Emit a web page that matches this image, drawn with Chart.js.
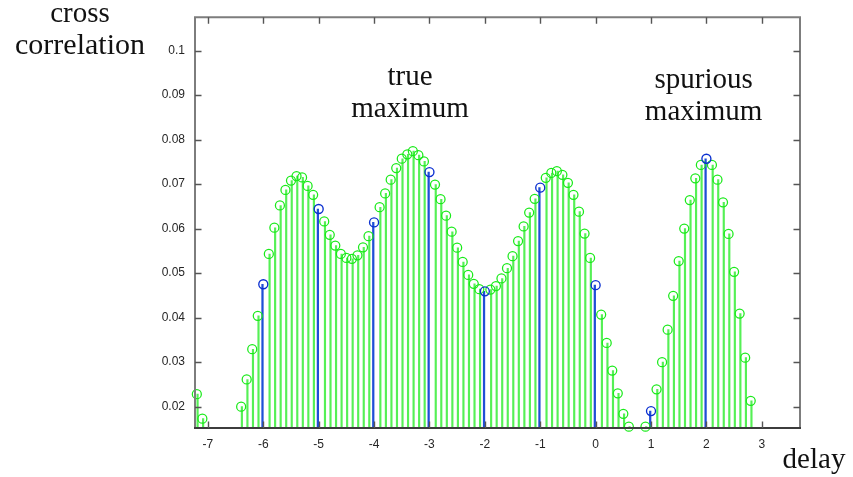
<!DOCTYPE html>
<html>
<head>
<meta charset="utf-8">
<script src="https://cdn.jsdelivr.net/npm/chart.js@4/dist/chart.umd.min.js"></script>
<style>
  html, body { margin: 0; padding: 0; background: #fff; }
  canvas { display: block; }
</style>
</head>
<body>
<canvas id="xc" width="853" height="477"></canvas>
<script>
// Sampled delays (step 0.1) and the cross-correlation value at each one.
const delays = [
  -7.2, -7.1,
  -6.4, -6.3, -6.2, -6.1, -6.0, -5.9, -5.8, -5.7, -5.6, -5.5, -5.4, -5.3, -5.2, -5.1,
  -5.0, -4.9, -4.8, -4.7, -4.6, -4.5, -4.4, -4.3, -4.2, -4.1,
  -4.0, -3.9, -3.8, -3.7, -3.6, -3.5, -3.4, -3.3, -3.2, -3.1,
  -3.0, -2.9, -2.8, -2.7, -2.6, -2.5, -2.4, -2.3, -2.2, -2.1,
  -2.0, -1.9, -1.8, -1.7, -1.6, -1.5, -1.4, -1.3, -1.2, -1.1,
  -1.0, -0.9, -0.8, -0.7, -0.6, -0.5, -0.4, -0.3, -0.2, -0.1,
  0.0, 0.1, 0.2, 0.3, 0.4, 0.5, 0.6,
  0.9, 1.0, 1.1, 1.2, 1.3, 1.4, 1.5, 1.6, 1.7, 1.8, 1.9,
  2.0, 2.1, 2.2, 2.3, 2.4, 2.5, 2.6, 2.7, 2.8
];
const xcorr = [
  0.0228, 0.0173,
  0.0200, 0.0261, 0.0329, 0.0404, 0.0475, 0.0543, 0.0602, 0.0652, 0.0687, 0.0708, 0.0718, 0.0715, 0.0696, 0.0676,
  0.0644, 0.0616, 0.0586, 0.0562, 0.0543, 0.0534, 0.0532, 0.0540, 0.0558, 0.0583,
  0.0614, 0.0648, 0.0679, 0.0710, 0.0736, 0.0757, 0.0767, 0.0774, 0.0765, 0.0751,
  0.0727, 0.0699, 0.0666, 0.0629, 0.0593, 0.0557, 0.0525, 0.0496, 0.0476, 0.0464,
  0.0459, 0.0463, 0.0471, 0.0488, 0.0511, 0.0538, 0.0572, 0.0605, 0.0636, 0.0667,
  0.0692, 0.0714, 0.0725, 0.0729, 0.0721, 0.0703, 0.0676, 0.0638, 0.0589, 0.0534,
  0.0473, 0.0407, 0.0343, 0.0281, 0.0230, 0.0184, 0.0155,
  0.0155, 0.0190, 0.0239, 0.0300, 0.0373, 0.0449, 0.0527, 0.0600, 0.0664, 0.0713, 0.0743,
  0.0757, 0.0743, 0.0710, 0.0659, 0.0588, 0.0503, 0.0409, 0.0310, 0.0213
];

// Axis tick values
const xTicks = [-7, -6, -5, -4, -3, -2, -1, 0, 1, 2, 3];
const yTicks = [0.02, 0.03, 0.04, 0.05, 0.06, 0.07, 0.08, 0.09, 0.1];

// Integer delays are highlighted in blue, the rest are green.
const greenPts = [], bluePts = [];
delays.forEach((d, i) => {
  const p = { x: d, y: xcorr[i] };
  (Number.isInteger(d) ? bluePts : greenPts).push(p);
});

const GREEN_STEM = '#55f055';
const GREEN_MARK = '#19ea19';
const BLUE_STEM = '#1f4fd6';
const BLUE_MARK = '#0a2fd0';
const AXIS_DARK = '#3c3c3c';
const AXIS_GRAY = '#7d7d7d';
const SERIF = '"Liberation Serif", "Times New Roman", serif';

// Box frame, inward tick marks and text labels.
const framePlugin = {
  id: 'frame',
  afterDraw(chart) {
    const { ctx, chartArea: a, scales: { x, y } } = chart;
    ctx.save();
    ctx.lineWidth = 2;
    ctx.strokeStyle = AXIS_GRAY;
    ctx.beginPath();
    ctx.moveTo(a.left, a.bottom); ctx.lineTo(a.left, a.top);
    ctx.lineTo(a.right, a.top); ctx.lineTo(a.right, a.bottom);
    ctx.stroke();
    ctx.strokeStyle = AXIS_DARK;
    ctx.beginPath();
    ctx.moveTo(a.left - 1, a.bottom); ctx.lineTo(a.right + 1, a.bottom);
    ctx.stroke();

    const tl = 6.5;
    ctx.lineWidth = 1.4;
    ctx.strokeStyle = '#555';
    ctx.beginPath();
    xTicks.forEach(v => {
      const px = Math.round(x.getPixelForValue(v)) + 0.5;
      ctx.moveTo(px, a.bottom); ctx.lineTo(px, a.bottom - tl);
      ctx.moveTo(px, a.top); ctx.lineTo(px, a.top + tl);
    });
    yTicks.forEach(v => {
      const py = Math.round(y.getPixelForValue(v)) + 0.5;
      ctx.moveTo(a.left, py); ctx.lineTo(a.left + tl, py);
      ctx.moveTo(a.right, py); ctx.lineTo(a.right - tl, py);
    });
    ctx.stroke();

    ctx.fillStyle = '#111';
    ctx.font = '29px ' + SERIF;
    ctx.textAlign = 'center';
    ctx.textBaseline = 'middle';
    ctx.fillText('cross', 80, 14);
    ctx.save();
    ctx.font = '30px ' + SERIF;
    ctx.fillText('correlation', 80, 46);
    ctx.restore();
    ctx.fillText('delay', 814, 460);

    const tx = x.getPixelForValue(-3.35);
    ctx.fillText('true', tx, 77);
    ctx.fillText('maximum', tx, 109);
    const sx = x.getPixelForValue(1.95);
    ctx.fillText('spurious', sx, 80);
    ctx.fillText('maximum', sx, 112);
    ctx.restore();
  }
};

const tickFont = { family: '"Liberation Sans", Arial, Helvetica, sans-serif', size: 12 };

new Chart(document.getElementById('xc'), {
  type: 'bar',
  data: {
    datasets: [
      { type: 'bar', data: greenPts, backgroundColor: GREEN_STEM, barThickness: 1.5, order: 4 },
      { type: 'bar', data: bluePts, backgroundColor: BLUE_STEM, barThickness: 1.6, order: 3 },
      { type: 'scatter', data: greenPts, pointStyle: 'circle', pointRadius: 4.5,
        backgroundColor: 'rgba(0,0,0,0)', borderColor: GREEN_MARK, borderWidth: 1.25, clip: false, order: 2 },
      { type: 'scatter', data: bluePts, pointStyle: 'circle', pointRadius: 4.5,
        backgroundColor: 'rgba(0,0,0,0)', borderColor: BLUE_MARK, borderWidth: 1.35, clip: false, order: 1 }
    ]
  },
  options: {
    responsive: false,
    animation: false,
    layout: { padding: { top: 14, right: 53, left: 0, bottom: 0 } },
    plugins: { legend: { display: false }, tooltip: { enabled: false } },
    scales: {
      x: {
        type: 'linear',
        min: -7.233, max: 3.69,
        offset: false,
        grid: { display: false, drawTicks: false },
        border: { display: false },
        afterBuildTicks: s => { s.ticks = xTicks.map(v => ({ value: v })); },
        afterFit: s => { s.height = 49; },
        ticks: { padding: 9, color: '#262626', font: tickFont, callback: v => String(v), maxRotation: 0, autoSkip: false }
      },
      y: {
        type: 'linear',
        min: 0.0152, max: 0.1075,
        grid: { display: false, drawTicks: false },
        border: { display: false },
        afterBuildTicks: s => { s.ticks = yTicks.map(v => ({ value: v })); },
        afterFit: s => { s.width = 195; },
        ticks: { padding: 10, color: '#262626', font: tickFont, callback: v => String(v), autoSkip: false }
      }
    }
  },
  plugins: [framePlugin]
});
</script>
</body>
</html>
